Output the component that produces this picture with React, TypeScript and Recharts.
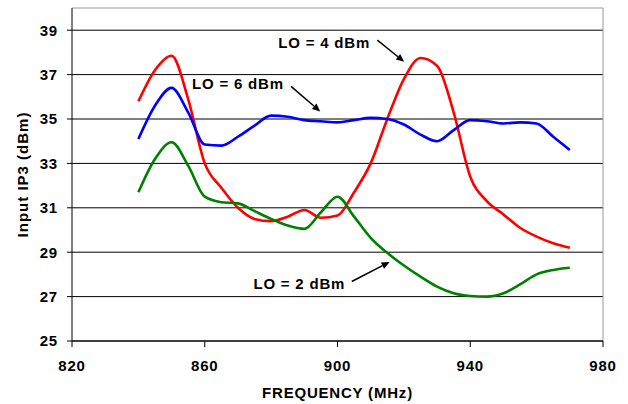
import React from "react";
import {
  LineChart,
  Line,
  XAxis,
  YAxis,
  CartesianGrid,
  ReferenceLine,
  ReferenceDot,
} from "recharts";

// MHz, every 5 MHz from 840 to 970
const frequency = [
  840, 845, 850, 855, 860, 865, 870, 875, 880, 885, 890, 895, 900, 905, 910,
  915, 920, 925, 930, 935, 940, 945, 950, 955, 960, 965, 970,
];

const lo4 = [
  35.8, 37.2, 37.85, 35.9, 33.0, 31.9, 31.0, 30.5, 30.4, 30.6, 30.9, 30.55,
  30.65, 31.7, 33.0, 35.0, 36.8, 37.75, 37.4, 35.3, 32.4, 31.3, 30.7, 30.1,
  29.7, 29.4, 29.2,
];

const lo6 = [
  34.1, 35.6, 36.4, 35.3, 33.85, 33.8, 34.2, 34.7, 35.15, 35.1, 34.95, 34.9,
  34.85, 34.95, 35.05, 35.0, 34.75, 34.3, 34.0, 34.5, 34.95, 34.9, 34.8, 34.85,
  34.8, 34.2, 33.6,
];

const lo2 = [
  31.7, 33.2, 33.95, 32.9, 31.5, 31.25, 31.2, 30.85, 30.5, 30.2, 30.05, 30.8,
  31.5, 30.6, 29.65, 28.97, 28.4, 27.9, 27.45, 27.15, 27.03, 27.0, 27.15, 27.55,
  28.0, 28.2, 28.3,
];

const xTicks = [820, 860, 900, 940, 980];
const yTicks = [25, 27, 29, 31, 33, 35, 37, 39];

// annotation text positions and arrows, in data units
const notes = [
  { text: "LO = 4 dBm", x: 896, y: 38.42, from: [912, 38.55], to: [920.1, 37.58] },
  { text: "LO = 6 dBm", x: 870, y: 36.58, from: [886, 36.47], to: [894.8, 35.34] },
  { text: "LO = 2 dBm", x: 888.5, y: 27.56, from: [904.3, 27.68], to: [915.7, 28.56] },
];

const data = frequency.map((f, i) => ({
  f,
  lo2: lo2[i],
  lo4: lo4[i],
  lo6: lo6[i],
}));

const textStyle = {
  fontFamily: "Liberation Sans, Arial, sans-serif",
  fontWeight: 700,
  fontSize: 15,
  fill: "#000",
  letterSpacing: 0.8,
};

const Arrow = (props: any) => {
  const { x1, y1, x2, y2 } = props;
  const ang = Math.atan2(y2 - y1, x2 - x1);
  const len = 8;
  const half = 3.5;
  const bx = x2 - len * Math.cos(ang);
  const by = y2 - len * Math.sin(ang);
  const px = -Math.sin(ang) * half;
  const py = Math.cos(ang) * half;
  return (
    <g>
      <line x1={x1} y1={y1} x2={bx} y2={by} stroke="#000" strokeWidth={1.5} />
      <polygon
        points={`${x2},${y2} ${bx + px},${by + py} ${bx - px},${by - py}`}
        fill="#000"
      />
    </g>
  );
};

const App: React.FC = () => {
  return (
    <div style={{ position: "absolute", left: 0, top: 0 }}>
      <LineChart
        width={628}
        height={404}
        data={data}
        margin={{ top: 8, right: 25, bottom: 0, left: 0 }}
      >
        <CartesianGrid vertical={false} stroke="#000" horizontalValues={yTicks} />
        <ReferenceLine y={40} stroke="#999" strokeWidth={1} />
        <ReferenceLine x={980} stroke="#999" strokeWidth={1} />
        <XAxis
          dataKey="f"
          type="number"
          domain={[820, 980]}
          ticks={xTicks}
          height={63}
          stroke="#000"
          tickSize={6}
          tickMargin={13}
          tick={textStyle}
          label={{
            value: "FREQUENCY (MHz)",
            position: "insideBottom",
            offset: 6,
            style: textStyle,
          }}
        />
        <YAxis
          type="number"
          domain={[25, 40]}
          ticks={yTicks}
          allowDataOverflow
          width={72}
          stroke="#000"
          tickSize={5}
          tickMargin={9}
          tick={textStyle}
          label={{
            value: "Input IP3 (dBm)",
            angle: -90,
            position: "insideLeft",
            offset: 23,
            style: { ...textStyle, letterSpacing: 1, textAnchor: "middle" },
          }}
        />
        <Line
          type="monotone"
          dataKey="lo4"
          stroke="#ff0000"
          strokeWidth={2.6}
          dot={false}
          isAnimationActive={false}
        />
        <Line
          type="monotone"
          dataKey="lo6"
          stroke="#0000ff"
          strokeWidth={2.6}
          dot={false}
          isAnimationActive={false}
        />
        <Line
          type="monotone"
          dataKey="lo2"
          stroke="#008000"
          strokeWidth={2.6}
          dot={false}
          isAnimationActive={false}
        />
        {notes.map((n) => (
          <ReferenceLine
            key={n.text + "-arrow"}
            segment={[
              { x: n.from[0], y: n.from[1] },
              { x: n.to[0], y: n.to[1] },
            ]}
            shape={Arrow}
          />
        ))}
        {notes.map((n) => (
          <ReferenceDot
            key={n.text}
            x={n.x}
            y={n.y}
            r={0}
            fill="none"
            stroke="none"
            label={{ value: n.text, position: "center", style: textStyle }}
          />
        ))}
      </LineChart>
    </div>
  );
};

export default App;
